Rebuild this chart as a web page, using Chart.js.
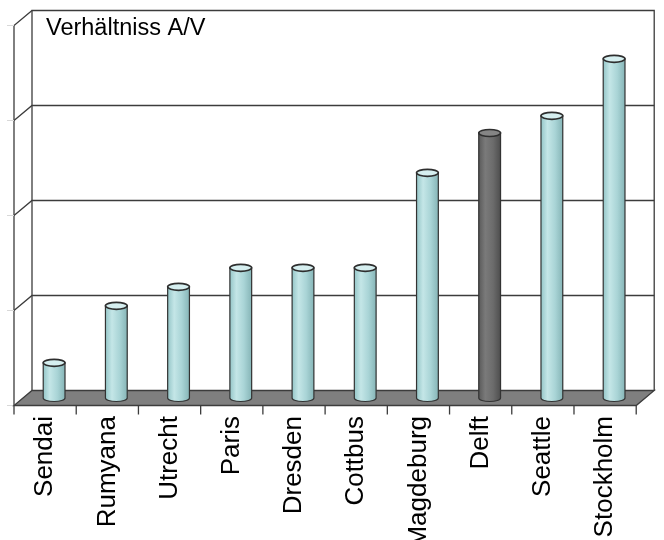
<!DOCTYPE html>
<html>
<head>
<meta charset="utf-8">
<script src="https://cdn.jsdelivr.net/npm/chart.js@4.4.1/dist/chart.umd.min.js"></script>
<style>
  html, body { margin: 0; padding: 0; background: #fff; }
  #wrap { width: 664px; height: 540px; }
</style>
</head>
<body>
<div id="wrap"><canvas id="myChart" width="664" height="540"></canvas></div>
<script>
const staedte = ["Sendai", "Rumyana", "Utrecht", "Paris", "Dresden", "Cottbus", "Magdeburg", "Delft", "Seattle", "Stockholm"];
const verhaeltnis = [0.37, 0.97, 1.17, 1.37, 1.37, 1.37, 2.37, 2.79, 2.97, 3.57];
const gitterWerte = [0, 1, 2, 3, 4];
const titel = "Verhältniss A/V";

const hx = 9, hy = 7.5; // halbe Tiefe der 3D-Darstellung

// Wände, Boden, Gitter hinter den Säulen
const wandPlugin = {
  id: "wand",
  beforeDatasetsDraw(chart) {
    const ctx = chart.ctx;
    const ca = chart.chartArea;
    const ys = chart.scales.y;
    const xs = chart.scales.x;
    const y0 = ys.getPixelForValue(0);
    const yTop = ys.getPixelForValue(gitterWerte[gitterWerte.length - 1]);
    ctx.save();
    ctx.strokeStyle = "#3c3c3c";
    ctx.lineWidth = 1.3;

    // Rückwand
    ctx.beginPath();
    ctx.moveTo(ca.left + hx, y0 - hy);
    ctx.lineTo(ca.left + hx, yTop - hy);
    ctx.lineTo(ca.right + hx, yTop - hy);
    ctx.lineTo(ca.right + hx, y0 - hy);
    ctx.stroke();

    // Seitenwand links
    ctx.beginPath();
    ctx.moveTo(ca.left - hx, y0 + hy);
    ctx.lineTo(ca.left - hx, yTop + hy);
    ctx.lineTo(ca.left + hx, yTop - hy);
    ctx.stroke();

    // Gitterlinien
    gitterWerte.slice(1, -1).forEach(v => {
      const gy = ys.getPixelForValue(v);
      ctx.beginPath();
      ctx.moveTo(ca.left - hx, gy + hy);
      ctx.lineTo(ca.left + hx, gy - hy);
      ctx.lineTo(ca.right + hx, gy - hy);
      ctx.stroke();
    });

    // kleine Teilstriche links
    ctx.strokeStyle = "#d8d8d8";
    ctx.lineWidth = 1;
    gitterWerte.forEach(v => {
      const gy = ys.getPixelForValue(v) + hy;
      ctx.beginPath();
      ctx.moveTo(ca.left - hx - 7, gy);
      ctx.lineTo(ca.left - hx, gy);
      ctx.stroke();
    });

    // Boden
    ctx.beginPath();
    ctx.moveTo(ca.left + hx, y0 - hy);
    ctx.lineTo(ca.right + hx, y0 - hy);
    ctx.lineTo(ca.right - hx, y0 + hy);
    ctx.lineTo(ca.left - hx, y0 + hy);
    ctx.closePath();
    ctx.fillStyle = "#7f7f7f";
    ctx.fill();
    ctx.strokeStyle = "#3c3c3c";
    ctx.lineWidth = 1.3;
    ctx.stroke();

    // Teilstriche der Kategorieachse
    const breite = xs.getPixelForValue(1) - xs.getPixelForValue(0);
    ctx.beginPath();
    for (let i = 0; i <= staedte.length; i++) {
      const tx = xs.getPixelForValue(0) - breite / 2 + i * breite - hx;
      ctx.moveTo(tx, y0 + hy);
      ctx.lineTo(tx, y0 + hy + 9);
    }
    ctx.stroke();

    // Titel
    ctx.fillStyle = "#000";
    ctx.font = "23.5px 'Liberation Sans', Arial, sans-serif";
    ctx.textBaseline = "alphabetic";
    ctx.fillText(titel, 46, 35);
    ctx.restore();
  }
};

// Säulen als Zylinder
const zylinderPlugin = {
  id: "zylinder",
  afterDatasetsDraw(chart) {
    const ctx = chart.ctx;
    const meta = chart.getDatasetMeta(0);
    meta.data.forEach((el, i) => {
      const p = el.getProps(["x", "y", "base", "width"], true);
      const rx = p.width / 2, ry = 3.5;
      const l = p.x - rx, r = p.x + rx;
      const dunkel = staedte[i] === "Delft";
      const g = ctx.createLinearGradient(l, 0, r, 0);
      if (dunkel) {
        g.addColorStop(0, "#5a5a5a");
        g.addColorStop(0.3, "#7a7a7a");
        g.addColorStop(0.65, "#6c6c6c");
        g.addColorStop(1, "#4e4e4e");
      } else {
        g.addColorStop(0, "#95c6c8");
        g.addColorStop(0.3, "#c4e6e7");
        g.addColorStop(0.65, "#a9d4d6");
        g.addColorStop(1, "#86b5b7");
      }
      ctx.save();
      ctx.beginPath();
      ctx.moveTo(l, p.y);
      ctx.lineTo(l, p.base);
      ctx.ellipse(p.x, p.base, rx, ry, 0, Math.PI, 0, true);
      ctx.lineTo(r, p.y);
      ctx.closePath();
      ctx.fillStyle = g;
      ctx.fill();
      ctx.strokeStyle = "#333";
      ctx.lineWidth = 1.2;
      ctx.stroke();
      // Deckel
      ctx.beginPath();
      ctx.ellipse(p.x, p.y, rx, ry, 0, 0, Math.PI * 2);
      ctx.fillStyle = dunkel ? "#858585" : "#d6eff0";
      ctx.fill();
      ctx.lineWidth = 1.6;
      ctx.strokeStyle = "#2e2e2e";
      ctx.stroke();
      ctx.restore();
    });
  }
};

const config = {
  type: "bar",
  data: {
    labels: staedte,
    datasets: [{
      label: titel,
      data: verhaeltnis,
      backgroundColor: staedte.map(s => s === "Delft" ? "#6e6e6e" : "#a9d4d6"),
      borderWidth: 0,
      barPercentage: 0.35,
      categoryPercentage: 1
    }]
  },
  options: {
    responsive: false,
    animation: false,
    layout: { padding: { left: 23, right: 14, top: 18, bottom: 0 } },
    plugins: {
      legend: { display: false },
      tooltip: { enabled: false },
      title: { display: false }
    },
    scales: {
      x: {
        grid: { display: false, drawTicks: false },
        border: { display: false },
        afterFit: (scale) => { scale.height = 142; },
        ticks: {
          minRotation: 90,
          maxRotation: 90,
          padding: 18,
          labelOffset: -hx,
          color: "#000",
          font: { family: "'Liberation Sans', Arial, sans-serif", size: 26 }
        }
      },
      y: {
        display: false,
        min: gitterWerte[0],
        max: gitterWerte[gitterWerte.length - 1],
        ticks: { stepSize: 1 }
      }
    }
  },
  plugins: [wandPlugin, zylinderPlugin]
};

const chart = new Chart(document.getElementById("myChart"), config);
</script>
</body>
</html>
